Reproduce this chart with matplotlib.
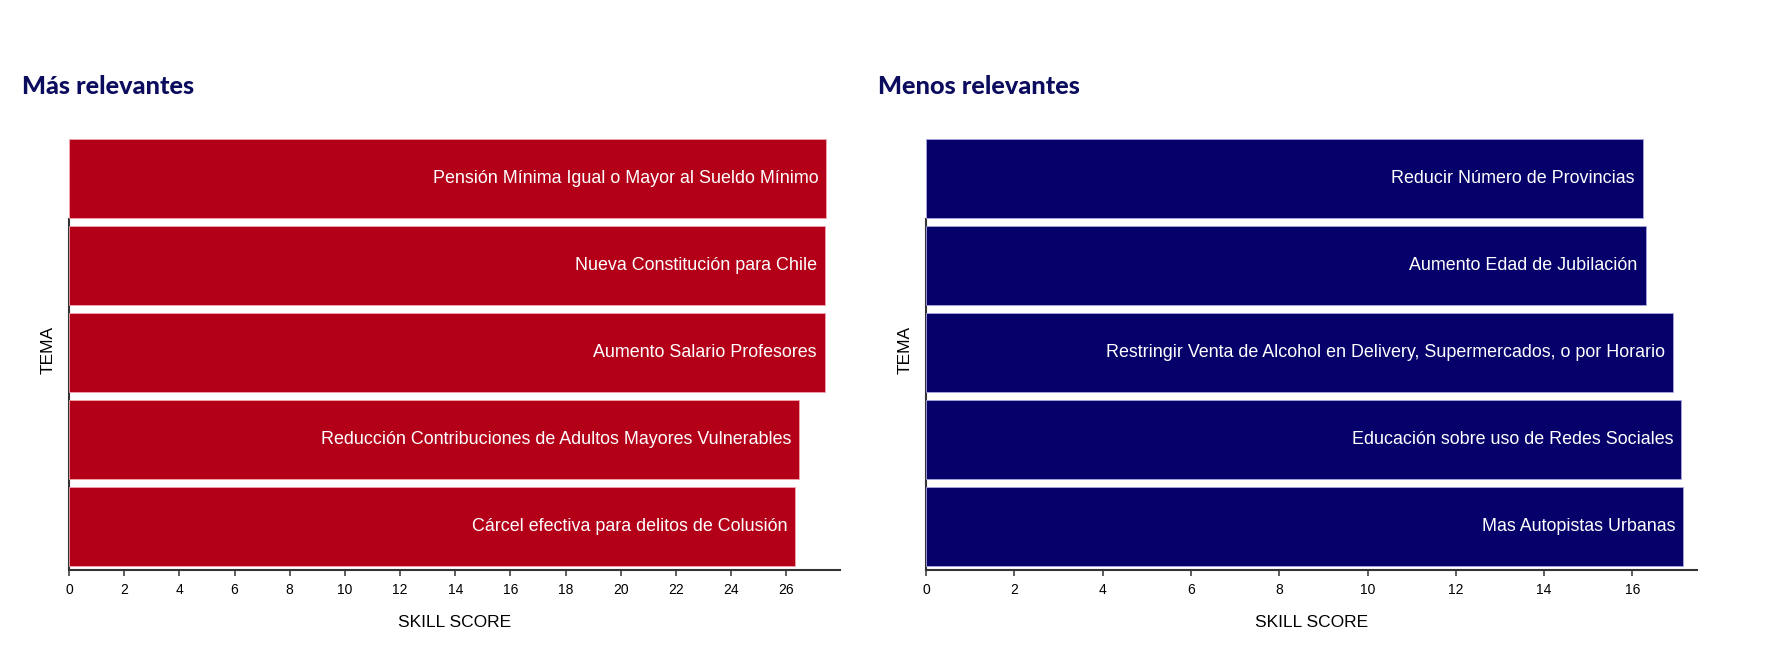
import matplotlib
matplotlib.use('Agg')
import matplotlib.pyplot as plt

W, H = 1767, 660

# data, top to bottom
mas_temas = ['Pensión Mínima Igual o Mayor al Sueldo Mínimo',
             'Nueva Constitución para Chile',
             'Aumento Salario Profesores',
             'Reducción Contribuciones de Adultos Mayores Vulnerables',
             'Cárcel efectiva para delitos de Colusión']
mas_score = [27.45, 27.40, 27.40, 26.48, 26.32]

menos_temas = ['Reducir Número de Provincias',
               'Aumento Edad de Jubilación',
               'Restringir Venta de Alcohol en Delivery, Supermercados, o por Horario',
               'Educación sobre uso de Redes Sociales',
               'Mas Autopistas Urbanas']
menos_score = [16.23, 16.30, 16.91, 17.11, 17.15]

mas_ticks = list(range(0, 27, 2))
menos_ticks = list(range(0, 17, 2))

plt.rcParams['font.family'] = ['Liberation Sans', 'DejaVu Sans']

fig = plt.figure(figsize=(W / 100, H / 100), dpi=100)


def panel(x0px, temas, score, ticks, xmax, color, edge, title, title_x):
    ax = fig.add_axes([x0px / W, 90 / H, 770.5 / W, 435 / H])
    pos = list(range(len(temas)))
    ax.barh(pos, score, height=0.9, color=color, edgecolor=edge,
            linewidth=0.6, zorder=3)
    for p, s, t in zip(pos, score, temas):
        ax.text(s - 8 * xmax / 770.5, p, t, ha='right', va='center',
                color='white', fontsize=12.9, zorder=4)
    ax.set_xlim(0, xmax)
    ax.set_ylim(4.5, -0.5)
    ax.set_xticks(ticks)
    ax.set_yticks([])
    for s in ['top', 'right']:
        ax.spines[s].set_visible(False)
    for s in ['left', 'bottom']:
        ax.spines[s].set_color('#333333')
        ax.spines[s].set_linewidth(1.5)
    ax.spines['left'].set_bounds(4.5, 0.47)
    ax.tick_params(axis='x', length=4.5, width=1.1, color='#333333',
                   labelsize=10, pad=5)
    ax.set_xlabel('SKILL SCORE', fontsize=12.5)
    ax.xaxis.set_label_coords(0.5, -0.1218)
    ax.xaxis.label.set_va('center')
    ax.set_ylabel('TEMA', fontsize=12.5)
    ax.yaxis.set_label_coords(-0.0266, 0.5057)
    ax.yaxis.label.set_va('center')
    fig.text(title_x / W, (H - 94.3) / H, title, ha='left', va='baseline',
             fontsize=18.2, fontweight='black', color='#0c0c5e',
             family=['Lato', 'DejaVu Sans'])
    return ax


panel(69, mas_temas, mas_score, mas_ticks, 27.93, '#b30018', '#f2a6b0',
      'Más relevantes', 21.5)
panel(926, menos_temas, menos_score, menos_ticks, 17.45, '#05006a', '#a8a8e0',
      'Menos relevantes', 878.3)

fig.savefig('out.png', dpi=100)
